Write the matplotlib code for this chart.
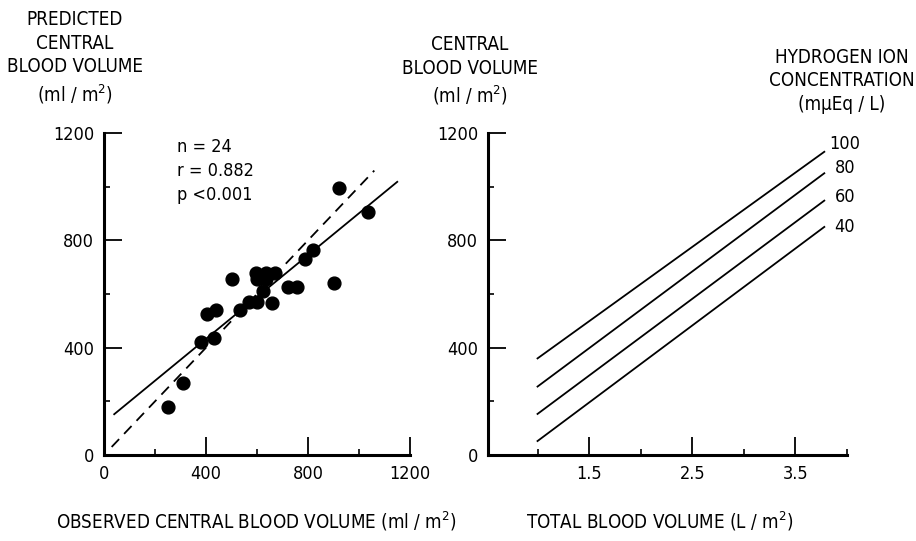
import numpy as np
import matplotlib
matplotlib.use('Agg')
import matplotlib.pyplot as plt

plt.rcParams['font.family'] = ['DejaVu Sans']
plt.rcParams['font.stretch'] = 'condensed'

# ---- data ----
# left panel: observed vs predicted central blood volume (ml/m2)
obs_cbv = [250, 310, 380, 405, 440, 430, 500, 535, 570, 600, 595, 600,
           635, 635, 670, 625, 660, 720, 755, 790, 820, 900, 920, 1035]
pred_cbv = [180, 270, 420, 525, 540, 435, 655, 540, 570, 570, 680, 655,
            680, 655, 680, 610, 565, 625, 625, 730, 765, 640, 995, 905]
reg_x = [40, 1150]
reg_y = [152, 1018]
ident_x = [30, 1060]
ident_y = [30, 1060]
stats_lines = ["n = 24", "r = 0.882", "p <0.001"]

# right panel: central blood volume vs total blood volume, per H+ concentration
tbv_x = [1.0, 3.78]
h_ion = ["100", "80", "60", "40"]
cbv_lines = [[360, 1130], [255, 1050], [153, 948], [52, 850]]

W, H = 916, 541
fig = plt.figure(figsize=(W / 100, H / 100), dpi=100)


def px_ax(x0, x1, y0, y1):
    return fig.add_axes([x0 / W, 1 - y1 / H, (x1 - x0) / W, (y1 - y0) / H])


def style(ax):
    for s in ['top', 'right']:
        ax.spines[s].set_visible(False)
    for s in ['left', 'bottom']:
        ax.spines[s].set_linewidth(2.2)
    ax.tick_params(which='major', direction='in', length=13, width=1.3,
                   labelsize=13, pad=7)
    ax.tick_params(which='minor', direction='in', length=4, width=1.2)
    ax.set_ylim(0, 1200)
    ax.set_yticks([0, 400, 800, 1200])
    ax.set_yticks([200, 600, 1000], minor=True)


# ---- left panel ----
ax1 = px_ax(104, 410, 133, 455)
style(ax1)
ax1.set_xlim(0, 1200)
ax1.set_xticks([0, 400, 800, 1200])
ax1.set_xticks([200, 600, 1000], minor=True)
ax1.plot(reg_x, reg_y, color='black', lw=1.3)
ax1.plot(ident_x, ident_y, color='black', lw=1.3, ls=(0, (6, 4)))
ax1.scatter(obs_cbv, pred_cbv, s=85, color='black', zorder=3)
ax1.text(0.24, 0.985, "\n".join(stats_lines), transform=ax1.transAxes,
         ha='left', va='top', fontsize=13, linespacing=1.45)

# ---- right panel ----
ax2 = px_ax(488, 847, 133, 455)
style(ax2)
ax2.set_xlim(0.52, 4.0)
ax2.set_xticks([1.5, 2.5, 3.5])
ax2.set_xticks([1.0, 2.0, 3.0, 4.0], minor=True)
for lab, yy in zip(h_ion, cbv_lines):
    ax2.plot(tbv_x, yy, color='black', lw=1.3)
lab_y = [1160, 1070, 960, 850]
for lab, ly in zip(h_ion, lab_y):
    ax2.text(3.98, ly, lab, ha='center', va='center', fontsize=13,
             clip_on=False)

# ---- axis titles as free text ----
def ftext(x, y, s, **kw):
    fig.text(x / W, 1 - y / H, s, ha='center', va='center', fontsize=13.5,
             linespacing=1.3, **kw)

ftext(75, 58, "PREDICTED\nCENTRAL\nBLOOD VOLUME\n(ml / m$^2$)")
ftext(470, 71, "CENTRAL\nBLOOD VOLUME\n(ml / m$^2$)")
ftext(842, 81, "HYDROGEN ION\nCONCENTRATION\n(mμEq / L)")
ftext(256, 521, "OBSERVED CENTRAL BLOOD VOLUME (ml / m$^2$)")
ftext(660, 521, "TOTAL BLOOD VOLUME (L / m$^2$)")

fig.savefig("out.png", dpi=100)
